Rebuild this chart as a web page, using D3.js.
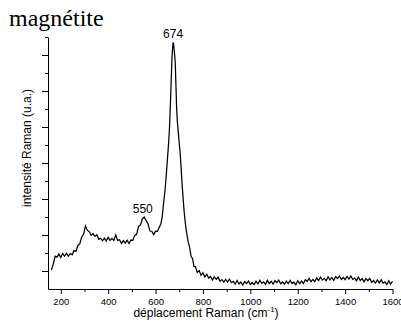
<!DOCTYPE html>
<html><head><meta charset="utf-8">
<script src="https://cdn.jsdelivr.net/npm/d3@7"></script>
<style>
html,body{margin:0;padding:0;background:#fff;}
svg{display:block;}
.axis text{font-family:"Liberation Sans",Arial,sans-serif;font-size:9.5px;fill:#000;}
.axis path,.axis line{stroke:#000;stroke-width:1;}
</style></head><body>
<script>
const title = "magnétite";
const xLabel = "déplacement Raman (cm";
const yLabel = "intensité Raman (u.a.)";
const xTicks = [200, 400, 600, 800, 1000, 1200, 1400, 1600];
const xMinorTicks = [300, 500, 700, 900, 1100, 1300, 1500];
const peakLabels = ["550", "674"];
const peakShifts = [550, 674];
const peakHeights = [3.0, 12.7];

const ramanShift = [
160,168,176,184,192,200,208,216,224,232,240,248,256,264,272,280,288,296,304,312,
320,328,336,344,352,360,368,376,384,392,400,408,416,424,432,440,448,456,464,472,
480,488,496,504,512,520,528,536,544,552,560,568,576,584,592,600,608,616,
622,628,634,640,645,650,655,659,663,666,669,672,674,676,678,680,683,686,689,692,
696,700,704,708,712,716,720,724,728,732,738,744,750,756,762,768,776,784,792,800,808,
816,824,832,840,848,856,864,872,880,888,896,904,912,920,928,936,944,952,960,968,
976,984,992,1000,1008,1016,1024,1032,1040,1048,1056,1064,1072,1080,1088,1096,1104,1112,1120,1128,
1136,1144,1152,1160,1168,1176,1184,1192,1200,1208,1216,1224,1232,1240,1248,1256,1264,1272,1280,1288,
1296,1304,1312,1320,1328,1336,1344,1352,1360,1368,1376,1384,1392,1400,1408,1416,1424,1432,1440,1448,
1456,1464,1472,1480,1488,1496,1504,1512,1520,1528,1536,1544,1552,1560,1568,1576,1584,1592,1600
];
const intensity = [
0.05,0.37,0.82,0.77,0.94,0.76,0.97,0.82,0.99,0.83,0.97,0.90,1.13,1.09,1.42,1.50,1.88,2.04,2.50,2.27,
2.19,1.98,2.07,1.92,2.01,1.76,1.82,1.68,1.83,1.66,1.87,1.70,1.81,1.69,2.00,1.70,1.74,1.53,1.69,1.55,
1.71,1.53,1.72,1.70,1.98,2.04,2.47,2.55,2.88,3.00,2.80,2.63,2.22,2.21,2.02,2.21,2.20,2.44,
2.6,3.0,3.8,4.5,5.3,6.2,7.1,8.0,9.4,10.6,11.8,12.4,12.7,12.6,12.35,12.1,11.6,10.3,9.0,8.3,
7.7,7.1,6.5,5.7,4.8,4.1,3.4,2.85,2.4,2.05,1.6,1.30,0.80,0.70,0.25,0.25,-0.08,0.02,-0.24,-0.10,-0.33,
-0.18,-0.39,-0.30,-0.50,-0.33,-0.46,-0.34,-0.57,-0.48,-0.62,-0.46,-0.62,-0.46,-0.65,-0.58,-0.73,-0.53,-0.72,-0.61,-0.78,
-0.59,-0.70,-0.56,-0.76,-0.64,-0.76,-0.57,-0.71,-0.52,-0.69,-0.60,-0.74,-0.52,-0.70,-0.57,-0.73,-0.54,-0.64,-0.51,-0.71,
-0.61,-0.73,-0.56,-0.70,-0.53,-0.70,-0.62,-0.76,-0.54,-0.70,-0.56,-0.70,-0.49,-0.57,-0.41,-0.59,-0.47,-0.58,-0.39,-0.53,
-0.34,-0.50,-0.41,-0.54,-0.32,-0.49,-0.36,-0.52,-0.32,-0.42,-0.27,-0.47,-0.36,-0.48,-0.30,-0.45,-0.28,-0.46,-0.39,-0.54,
-0.34,-0.53,-0.42,-0.60,-0.42,-0.54,-0.41,-0.63,-0.53,-0.67,-0.50,-0.66,-0.49,-0.67,-0.60,-0.75,-0.55,-0.73,-0.58
];

const W = 401, H = 330;
const svg = d3.select("body").append("svg").attr("width", W).attr("height", H);

const x = d3.scaleLinear().domain([146, 1600]).range([48, 392.5]);
const y = d3.scaleLinear().domain([-1, 13]).range([289, 37]);

// X axis
svg.append("g").attr("class", "axis").attr("transform", "translate(0,289)")
  .call(d3.axisBottom(x).tickValues(xTicks).tickFormat(d3.format("d")).tickSize(5).tickSizeOuter(0).tickPadding(4));
svg.append("g").attr("class", "axis").attr("transform", "translate(0,289)")
  .call(d3.axisBottom(x).tickValues(xMinorTicks).tickFormat("").tickSize(3).tickSizeOuter(0))
  .select(".domain").remove();

// Y axis
svg.append("g").attr("class", "axis").attr("transform", "translate(48,0)")
  .call(d3.axisLeft(y).tickValues([0,2,4,6,8,10,12]).tickFormat("").tickSize(6).tickSizeOuter(0));
svg.append("g").attr("class", "axis").attr("transform", "translate(48,0)")
  .call(d3.axisLeft(y).tickValues([1,3,5,7,9,11,13]).tickFormat("").tickSize(3).tickSizeOuter(0))
  .select(".domain").remove();

// Spectrum
const pts = ramanShift.map((s, i) => [s, intensity[i]]);
svg.append("path").datum(pts)
  .attr("fill", "none").attr("stroke", "#000").attr("stroke-width", 1.25)
  .attr("stroke-linejoin", "miter")
  .attr("d", d3.line().x(d => x(d[0])).y(d => y(d[1])));

// Peak labels
svg.selectAll(".pk").data(peakLabels).enter().append("text")
  .attr("x", (d, i) => x(peakShifts[i]) - (i === 0 ? 1 : 0))
  .attr("y", (d, i) => y(peakHeights[i]) - 4)
  .attr("text-anchor", "middle")
  .attr("font-family", "Liberation Sans, Arial, sans-serif")
  .attr("font-size", 12)
  .text(d => d);

// Title
svg.append("text").attr("x", 9).attr("y", 26)
  .attr("font-family", "Liberation Serif, Times New Roman, serif")
  .attr("font-size", 24).text(title);

// X label with superscript
const xl = svg.append("text").attr("x", 206).attr("y", 317).attr("text-anchor", "middle")
  .attr("font-family", "Liberation Sans, Arial, sans-serif").attr("font-size", 12);
xl.append("tspan").text(xLabel);
xl.append("tspan").attr("dy", -5).attr("font-size", 8).text("-1");
xl.append("tspan").attr("dy", 5).text(")");

// Y label
svg.append("text").attr("transform", "translate(31,148) rotate(-90)")
  .attr("text-anchor", "middle")
  .attr("font-family", "Liberation Sans, Arial, sans-serif").attr("font-size", 12)
  .text(yLabel);
</script>
</body></html>
